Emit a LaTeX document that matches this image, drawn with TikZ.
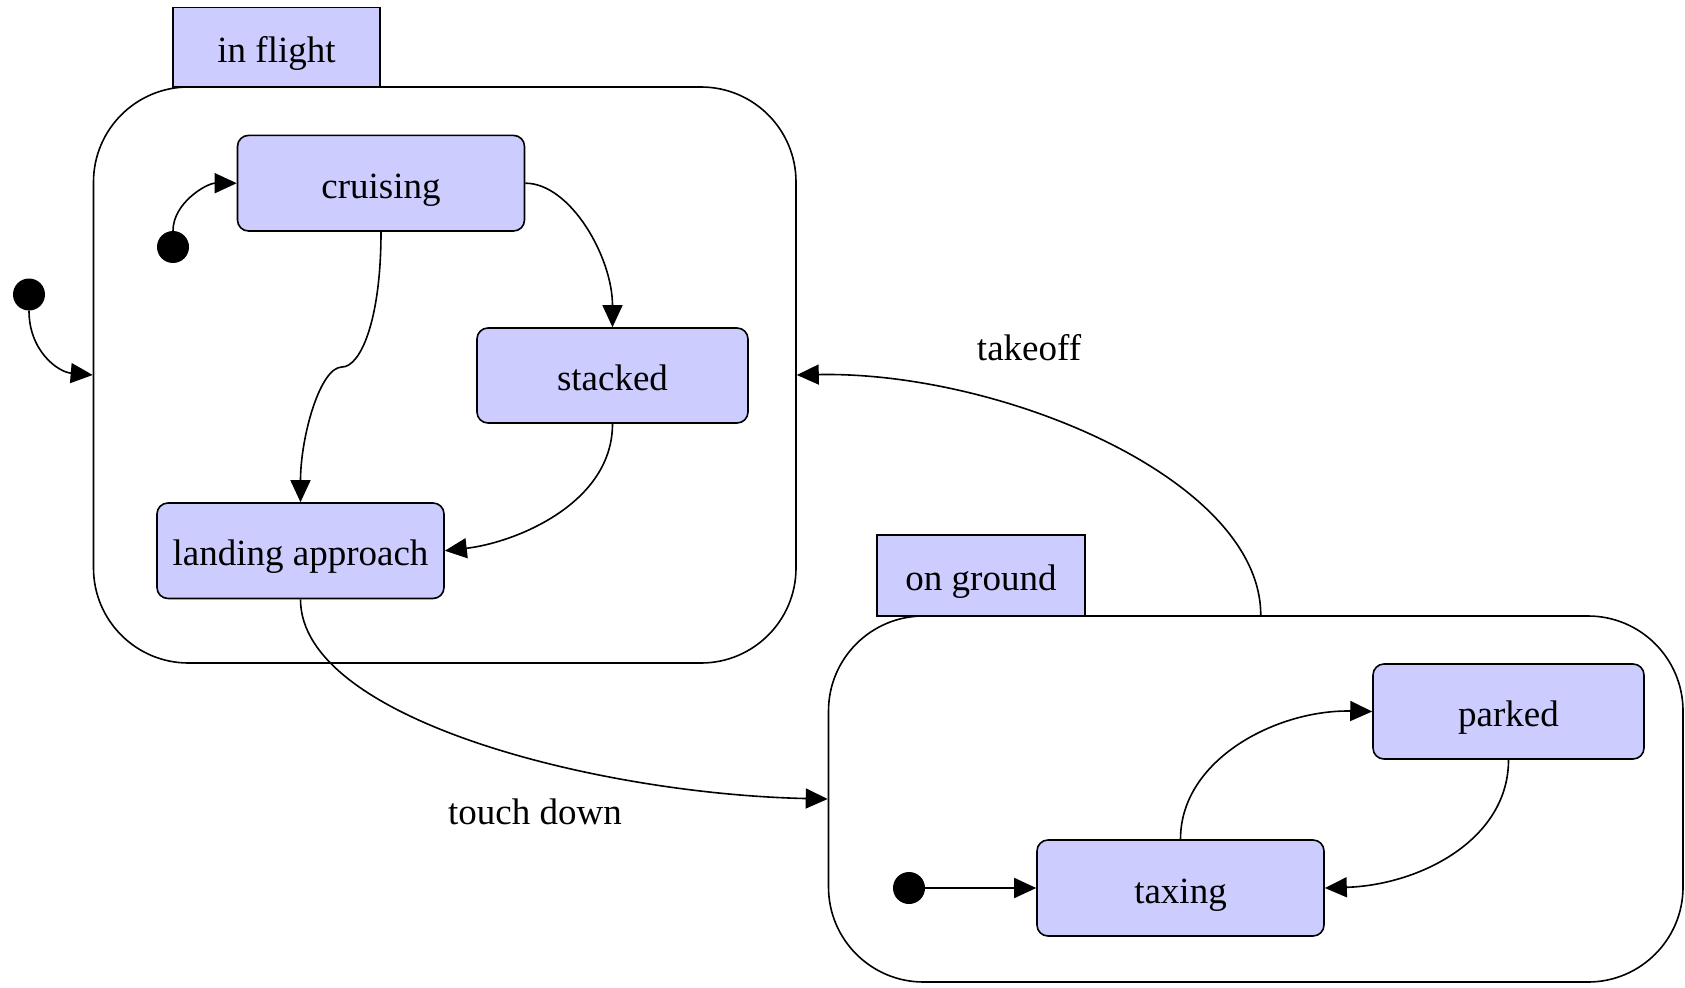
\documentclass[tikz,border=0pt]{standalone}
\usepackage{fontspec}
\setmainfont{Liberation Serif}
\usetikzlibrary{arrows.meta}
\definecolor{statefill}{RGB}{204,204,255}
\begin{document}
\begin{tikzpicture}[x=1pt,y=-1pt,
  every node/.style={font=\fontsize{37}{44}\selectfont, inner sep=0pt,
                     text height=30pt, text depth=0pt},
  superstate/.style={draw, line width=1.6pt, rounded corners=95pt},
  tabbox/.style={draw, fill=statefill, line width=1.6pt},
  statebox/.style={draw, fill=statefill, line width=1.6pt, rounded corners=11pt},
  initdot/.style={circle, fill=black, minimum size=32pt, text height=0pt},
  trans/.style={line width=1.6pt, -{Triangle[length=22pt,width=20pt]}},
]
\useasboundingbox (0,0) rectangle (1685,987);

% composite states
\node[superstate, minimum width=702.5pt, minimum height=576pt] (inflight) at (444.75,375) {};
\node[tabbox, minimum width=207pt, minimum height=79.5pt] (inflighttab) at (276.5,47.25) {in flight};
\node[superstate, minimum width=854.5pt, minimum height=366pt] (onground) at (1255.75,799) {};
\node[tabbox, minimum width=208pt, minimum height=81pt] (ongroundtab) at (981,575.5) {on ground};

% simple states
\node[statebox, minimum width=287pt, minimum height=95.6pt] (cruising) at (381,183.2) {cruising};
\node[statebox, minimum width=271pt, minimum height=95pt] (stacked) at (612.5,375.5) {stacked};
\node[statebox, minimum width=287pt, minimum height=95.5pt] (landing) at (300.5,550.75) {landing approach};
\node[statebox, minimum width=271pt, minimum height=95pt] (parked) at (1508.5,711.5) {parked};
\node[statebox, minimum width=287pt, minimum height=96pt] (taxing) at (1180.5,888) {taxing};

% initial pseudo-states
\node[initdot] (init0) at (29,294.5) {};
\node[initdot] (init1) at (173,247) {};
\node[initdot] (init2) at (909,888) {};

% labels
\node (takeofflabel) at (1029,345) {takeoff};
\node (touchlabel) at (535,809) {touch down};

\coordinate (kink) at (342,367);

% transitions
\draw[trans] (init0.south) .. controls +(0,40) and +(-35,-3) .. (inflight.west);
\draw[trans] (init1.north) .. controls +(0,-28) and +(-30,0) .. (cruising.west);
\draw[trans] (cruising.east) .. controls +(45,0) and +(0,-70) .. (stacked.north);
\draw[trans] (cruising.south) .. controls +(0,90) and +(18,0) .. (kink)
             .. controls +(-22,0) and +(0,-65) .. (landing.north);
\draw[trans] (stacked.south) .. controls +(0,80) and +(70,-8) .. (landing.east);
\draw[trans] (landing.south) .. controls +(0,120) and +(-230,-5) .. (onground.west);
\draw[trans] ([xshift=5pt]onground.north) .. controls +(0,-136) and +(204,-4) .. (inflight.east);
\draw[trans] (init2.east) -- (taxing.west);
\draw[trans] (taxing.north) .. controls +(0,-80) and +(-95,-2) .. (parked.west);
\draw[trans] (parked.south) .. controls +(0,80) and +(95,-3) .. (taxing.east);
\end{tikzpicture}
\end{document}
